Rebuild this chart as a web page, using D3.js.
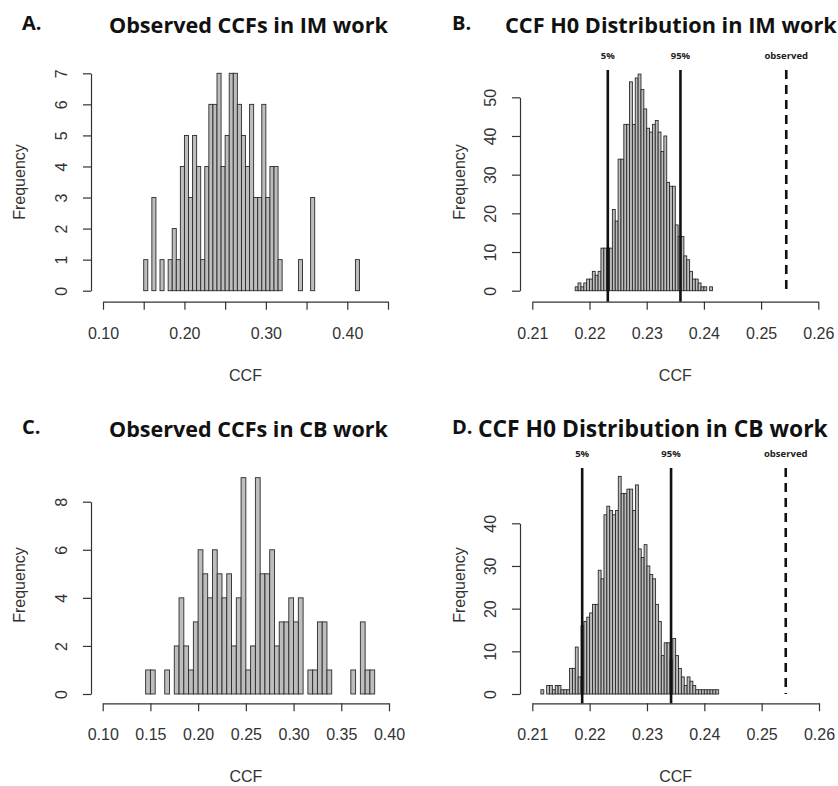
<!DOCTYPE html>
<html>
<head>
<meta charset="utf-8">
<script src="https://cdn.jsdelivr.net/npm/d3@7"></script>
<style>
  body { margin: 0; background: #fff; }
  .axis text { font-family: "Liberation Sans", Arial, sans-serif; font-size: 16px; fill: #333; }
  .axis path, .axis line { stroke: #333; stroke-width: 1.2px; }
</style>
</head>
<body>
<script>
// histogram counts (bin starts + widths)
var startA = 0.15, widthA = 0.005;
var countsA = [1,0,3,0,1,0,1,2,1,4,5,3,5,4,1,4,6,6,7,4,5,7,7,6,5,4,6,3,3,6,3,4,4,1,0,0,0,0,1,0,0,3,0,0,0,0,0,0,0,0,0,0,1];

var startB = 0.2175, widthB = 0.0005;
var countsB = [1,2,1,2,3,3,5,4,5,11,11,11,11,21,18,34,34,43,43,54,43,55,56,52,47,42,41,43,44,41,36,40,28,27,27,17,14,14,9,8,5,3,3,2,1,1,0,1];

var startC = 0.145, widthC = 0.005;
var countsC = [1,1,0,0,1,0,2,4,2,1,3,6,5,4,6,5,4,5,2,4,9,1,2,9,5,5,6,2,3,3,4,3,4,0,1,1,3,3,1,0,0,0,0,1,0,3,1,1];

var startD = 0.2115, widthD = 0.0005;
var countsD = [1,0,2,2,1,2,2,1,1,1,6,6,11,4,16,17,18,19,21,21,29,27,42,44,43,42,43,51,47,47,48,48,43,49,34,32,35,30,28,27,21,17,9,12,12,8,13,9,6,4,2,4,3,2,1,1,1,1,1,1,1,1];

// tick values
var xTicksA = [0.10,0.15,0.20,0.25,0.30,0.35,0.40,0.45];
var xLabelsA = [0.10,0.20,0.30,0.40];
var yTicksA = [0,1,2,3,4,5,6,7];
var xTicksB = [0.21,0.22,0.23,0.24,0.25,0.26];
var yTicksB = [0,10,20,30,40,50];
var xTicksC = [0.10,0.15,0.20,0.25,0.30,0.35,0.40];
var yTicksC = [0,2,4,6,8];
var xTicksD = [0.21,0.22,0.23,0.24,0.25,0.26];
var yTicksD = [0,10,20,30,40];

// reference lines (5%, 95%, observed)
var lineLabels = ["5%", "95%", "observed"];
var linesB = [0.2232, 0.2359, 0.2544];
var linesD = [0.2187, 0.2342, 0.2542];

var titles = ["Observed CCFs in IM work", "CCF H0 Distribution in IM work",
              "Observed CCFs in CB work", "CCF H0 Distribution in CB work"];
var letters = ["A.", "B.", "C.", "D."];

var svg = d3.select("body").append("svg")
    .attr("width", 838)
    .attr("height", 786);

function drawPanel(p) {
    var x = d3.scaleLinear().domain(p.xDomain).range(p.xRange);
    var y = d3.scaleLinear().domain(p.yDomain).range(p.yRange);
    var g = svg.append("g");

    // bars
    g.selectAll("rect.bar")
        .data(p.counts).enter()
        .append("rect")
        .attr("class", "bar")
        .attr("x", function(d, i) { return x(p.start + i * p.width); })
        .attr("width", function(d, i) { return x(p.start + (i + 1) * p.width) - x(p.start + i * p.width); })
        .attr("y", function(d) { return y(d); })
        .attr("height", function(d) { return y(0) - y(d); })
        .attr("fill", "#bdbdbd")
        .attr("stroke", "#2b2b2b")
        .attr("stroke-width", 0.9);

    // x axis
    var xa = g.append("g")
        .attr("class", "axis")
        .attr("transform", "translate(0," + p.xAxisY + ")")
        .call(d3.axisBottom(x)
            .tickValues(p.xTicks)
            .tickSize(8)
            .tickSizeOuter(0)
            .tickFormat(function(d) {
                if (p.xLabels && p.xLabels.indexOf(d) < 0) return "";
                return d3.format(".2f")(d);
            }));
    xa.selectAll("text").attr("y", 37).attr("dy", 0);

    // y axis
    var ya = g.append("g")
        .attr("class", "axis")
        .attr("transform", "translate(" + p.yAxisX + ",0)")
        .call(d3.axisLeft(y)
            .tickValues(p.yTicks)
            .tickSize(8)
            .tickSizeOuter(0)
            .tickFormat(d3.format("d")));
    ya.selectAll("text")
        .attr("x", 0).attr("dy", 0)
        .attr("text-anchor", "middle")
        .attr("transform", "translate(-24,0) rotate(-90)");

    // axis titles
    g.append("text")
        .attr("x", (p.xRange[0] + p.xRange[1]) / 2)
        .attr("y", p.xAxisY + 79)
        .attr("text-anchor", "middle")
        .style("font-family", "Liberation Sans, Arial, sans-serif")
        .style("font-size", "16px")
        .style("fill", "#333")
        .text("CCF");
    g.append("text")
        .attr("transform", "translate(" + p.freqX + "," + p.freqY + ") rotate(-90)")
        .attr("text-anchor", "middle")
        .style("font-family", "Liberation Sans, Arial, sans-serif")
        .style("font-size", "16px")
        .style("fill", "#333")
        .text("Frequency");

    // vertical reference lines
    if (p.lines) {
        p.lines.forEach(function(v, i) {
            g.append("line")
                .attr("x1", x(v)).attr("x2", x(v))
                .attr("y1", p.lineTop).attr("y2", i < 2 ? p.xAxisY : y(0))
                .attr("stroke", "#111")
                .attr("stroke-width", 2.6)
                .attr("stroke-dasharray", i == 2 ? "9,6" : null);
            g.append("text")
                .attr("x", x(v))
                .attr("y", p.lineTop - 11)
                .attr("text-anchor", "middle")
                .style("font-family", "Open Sans, sans-serif")
                .style("font-weight", "bold")
                .style("font-size", "9.5px")
                .style("fill", "#222")
                .text(lineLabels[i]);
        });
    }

    // panel letter and title
    g.append("text")
        .attr("x", p.letterX).attr("y", p.letterY)
        .style("font-family", "Open Sans, sans-serif")
        .style("font-weight", "bold")
        .style("font-size", "20px")
        .style("fill", "#111")
        .text(p.letter);
    var t = g.append("text")
        .attr("x", p.titleX).attr("y", p.titleY)
        .style("font-family", "Open Sans, sans-serif")
        .style("font-weight", "bold")
        .style("font-size", "20px")
        .style("fill", "#111")
        .text(p.title);
    // scale title font so its width matches the picture
    var w = t.node().getComputedTextLength();
    t.style("font-size", (20 * p.titleW / w) + "px");
}

drawPanel({
    counts: countsA, start: startA, width: widthA,
    xDomain: [0.10, 0.45], xRange: [103, 388],
    yDomain: [0, 7], yRange: [290.7, 73.3],
    xTicks: xTicksA, xLabels: xLabelsA, yTicks: yTicksA,
    xAxisY: 301.7, yAxisX: 91,
    freqX: 25, freqY: 182,
    letter: letters[0], letterX: 22, letterY: 30,
    title: titles[0], titleX: 109, titleY: 33, titleW: 279
});

drawPanel({
    counts: countsB, start: startB, width: widthB,
    xDomain: [0.21, 0.26], xRange: [532.3, 818.3],
    yDomain: [0, 50], yRange: [290.7, 97.3],
    xTicks: xTicksB, yTicks: yTicksB,
    xAxisY: 301.7, yAxisX: 520,
    freqX: 465, freqY: 182,
    lines: linesB, lineTop: 70,
    letter: letters[1], letterX: 452, letterY: 30,
    title: titles[1], titleX: 505, titleY: 33, titleW: 332
});

drawPanel({
    counts: countsC, start: startC, width: widthC,
    xDomain: [0.10, 0.40], xRange: [102.7, 389],
    yDomain: [0, 8], yRange: [694, 501.7],
    xTicks: xTicksC, yTicks: yTicksC,
    xAxisY: 703.3, yAxisX: 91,
    freqX: 25, freqY: 585,
    letter: letters[2], letterX: 22, letterY: 434,
    title: titles[2], titleX: 109, titleY: 437, titleW: 279
});

drawPanel({
    counts: countsD, start: startD, width: widthD,
    xDomain: [0.21, 0.26], xRange: [532.3, 819],
    yDomain: [0, 40], yRange: [694, 523.3],
    xTicks: xTicksD, yTicks: yTicksD,
    xAxisY: 703.3, yAxisX: 520,
    freqX: 465, freqY: 585,
    lines: linesD, lineTop: 468,
    letter: letters[3], letterX: 452, letterY: 434,
    title: titles[3], titleX: 478, titleY: 437, titleW: 350
});
</script>
</body>
</html>
